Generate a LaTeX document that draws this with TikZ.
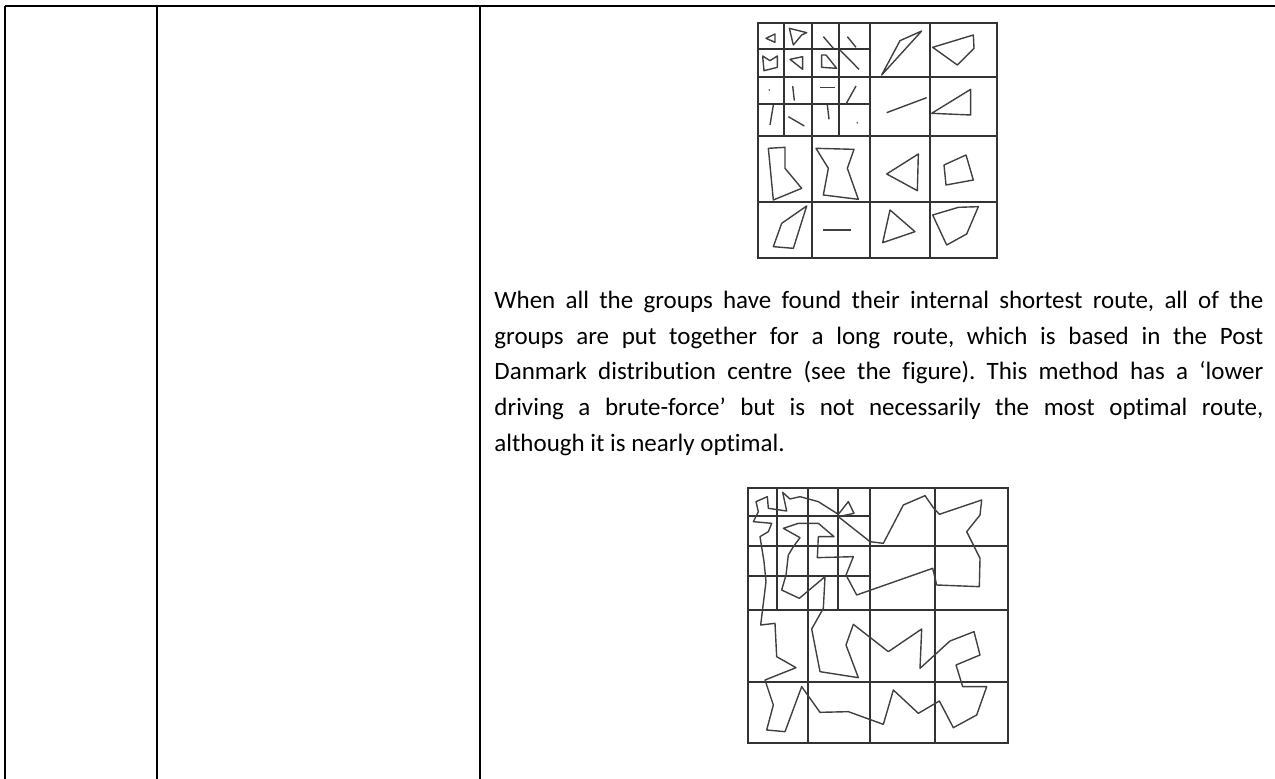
\documentclass[tikz,border=0pt]{standalone}
\usepackage{fontspec}
\setmainfont[Ligatures=NoCommon]{Carlito}

\begin{document}
\frenchspacing
\begin{tikzpicture}[
  x=0.5pt,y=-0.5pt,
  rule/.style={draw=black,line width=1.1pt},
  cell/.style={draw=black!80,line width=0.9pt},
  outline/.style={draw=black!75,line width=0.7pt,line join=round},
  txt/.style={inner sep=0pt,text width=384.5pt,align=justify,
    font=\fontsize{12.5}{17.8}\selectfont}
]
\useasboundingbox (0,0) rectangle (1275,779);
\draw[rule] (5,6) -- (1275,6);
\foreach \c in {5,157,480} \draw[rule] (\c,6) -- (\c,779);

\begin{scope}[shift={(740,10)},x=0.16667pt,y=-0.16667pt]
\draw[cell] (53,40) rectangle (770,745);
\foreach \c in {215,390,570} \draw[cell] (\c,40) -- (\c,745);
\foreach \r in {200,378,577} \draw[cell] (53,\r) -- (770,\r);
\foreach \c in {132,298} \draw[cell] (\c,40) -- (\c,378);
\foreach \r in {118,283} \draw[cell] (53,\r) -- (390,\r);
\draw[outline] (78,85) -- (105,72) -- (105,97) -- cycle;
\draw[outline] (148,55) -- (160,105) -- (185,75) -- (200,68) -- cycle;
\draw[outline] (250,80) -- (280,115);
\draw[outline] (322,80) -- (348,112);
\draw[outline] (68,138) -- (90,152) -- (112,138) -- (112,172) -- (72,182) -- cycle;
\draw[outline] (150,148) -- (188,140) -- (188,178) -- cycle;
\draw[outline] (245,135) -- (258,135) -- (290,175) -- (245,172) -- cycle;
\draw[outline] (300,120) -- (357,178);
\fill[black!60] (88,240) circle (0.5pt);
\draw[outline] (158,228) -- (163,272);
\draw[outline] (240,233) -- (285,233);
\draw[outline] (348,228) -- (318,282);
\draw[outline] (100,285) -- (90,345);
\draw[outline] (145,320) -- (193,348);
\draw[outline] (262,285) -- (267,328);
\fill[black!60] (352,338) circle (0.5pt);
\draw[outline] (425,195) -- (480,92) -- (545,63) -- cycle;
\draw[outline] (578,112) -- (700,75) -- (702,115) -- (652,165) -- cycle;
\draw[outline] (440,308) -- (560,263);
\draw[outline] (575,310) -- (692,238) -- (692,315) -- cycle;
\draw[outline] (85,415) -- (135,412) -- (135,475) -- (185,535) -- (100,570) -- cycle;
\draw[outline] (228,415) -- (342,418) -- (322,475) -- (355,568) -- (250,555) -- (265,475) -- cycle;
\draw[outline] (440,492) -- (535,432) -- (532,542) -- cycle;
\draw[outline] (612,465) -- (678,435) -- (700,510) -- (618,525) -- cycle;
\draw[outline] (125,640) -- (200,588) -- (160,715) -- (100,710) -- cycle;
\draw[outline] (250,660) -- (332,660);
\draw[outline] (450,600) -- (525,665) -- (428,698) -- cycle;
\draw[outline] (578,615) -- (655,592) -- (715,590) -- (680,672) -- (620,705) -- cycle;
\end{scope}

\node[txt,anchor=north west] (body) at (494,291) {When all the groups have found their internal shortest route, all of the\linebreak
groups are put together for a long route, which is based in the Post\linebreak
Danmark distribution centre (see the figure). This method has a ‘lower\linebreak
driving a brute-force’ but is not necessarily the most optimal route,\linebreak
although it is nearly optimal.};

\begin{scope}[shift={(740,475)},x=0.16667pt,y=-0.16667pt]
\draw[cell] (25,38) rectangle (803,803);
\foreach \c in {203,390,585} \draw[cell] (\c,38) -- (\c,803);
\foreach \r in {213,405,622} \draw[cell] (25,\r) -- (803,\r);
\foreach \c in {112,293} \draw[cell] (\c,38) -- (\c,405);
\foreach \r in {123,302} \draw[cell] (25,\r) -- (390,\r);
\draw[outline] (48,80) -- (82,65) -- (85,100) -- (140,108) -- (128,52) -- (150,72)
  -- (180,65) -- (235,80) -- (295,118) -- (325,80) -- (342,115) -- (295,125)
  -- (390,200) -- (430,205) -- (490,90) -- (555,62) -- (580,98) -- (598,118)
  -- (725,75) -- (720,120) -- (680,170) -- (720,250) -- (718,335) -- (590,330)
  -- (578,280) -- (350,360) -- (318,300) -- (340,245) -- (232,248) -- (235,185)
  -- (282,185) -- (235,145) -- (175,145) -- (130,160) -- (180,188) -- (160,215)
  -- (145,240) -- (138,300) -- (125,345) -- (178,370) -- (255,305) -- (250,400)
  -- (215,462) -- (240,590) -- (355,608) -- (318,510) -- (340,448) -- (445,530)
  -- (545,462) -- (540,580) -- (630,498) -- (702,470) -- (720,540) -- (648,570)
  -- (668,635) -- (740,635) -- (710,720) -- (640,758) -- (598,678) -- (535,715)
  -- (460,645) -- (430,748) -- (325,710) -- (240,712) -- (185,635) -- (135,770)
  -- (80,765) -- (100,690) -- (75,615) -- (168,578) -- (110,545) -- (105,445)
  -- (62,450) -- (78,320) -- (72,260) -- (60,185) -- (85,170) -- (95,145)
  -- (40,140) -- (55,110) -- cycle;
\end{scope}
\end{tikzpicture}
\end{document}
